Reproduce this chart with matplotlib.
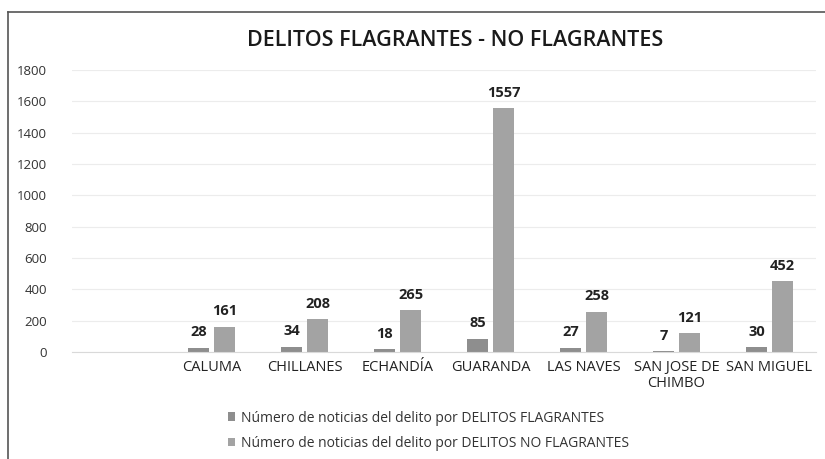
import numpy as np
import matplotlib
matplotlib.use("Agg")
import matplotlib.pyplot as plt
from matplotlib.lines import Line2D

plt.rcParams['font.family'] = ['Open Sans', 'DejaVu Sans']

# datos
cantones = ["CALUMA", "CHILLANES", "ECHANDÍA", "GUARANDA", "LAS NAVES",
            "SAN JOSE DE\nCHIMBO", "SAN MIGUEL"]
flagrantes = [28, 34, 18, 85, 27, 7, 30]
no_flagrantes = [161, 208, 265, 1557, 258, 121, 452]
serie_f = "Número de noticias del delito por DELITOS FLAGRANTES"
serie_nf = "Número de noticias del delito por DELITOS NO FLAGRANTES"
yticks = [0, 200, 400, 600, 800, 1000, 1200, 1400, 1600, 1800]

fig = plt.figure(figsize=(8.25, 4.59), dpi=100)
ax = fig.add_axes([72/825, 1-352/459, 744/825, 282/459])

x = np.arange(len(cantones))
w = 0.22
b1 = ax.bar(x - 0.14, flagrantes, w, color='#8e8e8e', label=serie_f)
b2 = ax.bar(x + 0.14, no_flagrantes, w, color='#a3a3a3', label=serie_nf)

for bars in (b1, b2):
    for r in bars:
        ax.annotate(str(int(r.get_height())),
                    (r.get_x() + r.get_width()/2, r.get_height()),
                    xytext=(0, 6), textcoords='offset points',
                    ha='center', va='bottom', fontsize=10.5,
                    fontweight='bold', color='#222222')

ax.set_xlim(-1.5, 6.5)
ax.set_ylim(0, 1800)
ax.set_yticks(yticks)
ax.set_xticks(x)
ax.set_xticklabels(cantones, fontsize=10.5, color='#222222', linespacing=1.05)
ax.tick_params(axis='y', labelsize=9.5, colors='#333333', length=0, pad=18)
ax.tick_params(axis='x', length=0, pad=6)
ax.grid(axis='y', color='#ececec', linewidth=0.8)
ax.set_axisbelow(True)
for s in ['top', 'right', 'left']:
    ax.spines[s].set_visible(False)
ax.spines['bottom'].set_color('#d9d9d9')

fig.text(455/825, 1-40/459, "DELITOS FLAGRANTES - NO FLAGRANTES",
         ha='center', va='center', fontsize=15.5, fontweight='semibold',
         color='#1a1a1a')

leg = fig.legend(handles=[b1, b2], loc='upper left',
                 bbox_to_anchor=(215/825, 1-398/459), ncol=1, frameon=False,
                 fontsize=10, handlelength=0.55, handleheight=0.55,
                 handletextpad=0.45, labelspacing=0.75, labelcolor='#333333')

# marco del grafico (solo borde superior e izquierdo visibles)
fig.add_artist(Line2D([8/825, 1], [1-12/459, 1-12/459], transform=fig.transFigure,
                      color='#555555', linewidth=1.2))
fig.add_artist(Line2D([8/825, 8/825], [0, 1-12/459], transform=fig.transFigure,
                      color='#555555', linewidth=1.2))

fig.savefig("out.png", dpi=100)
